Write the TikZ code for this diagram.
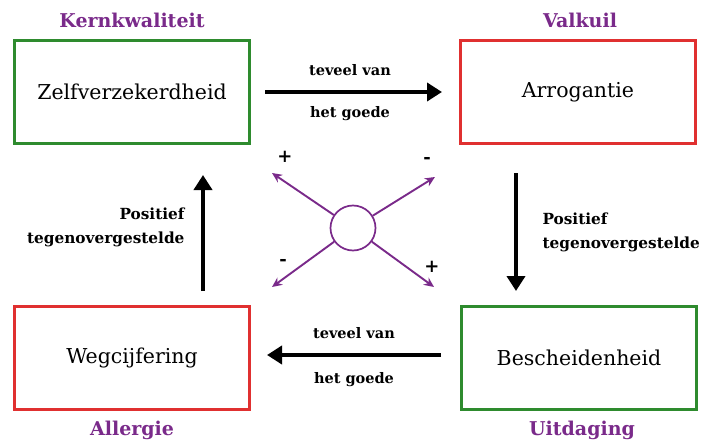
\documentclass[tikz,border=0pt]{standalone}
\usepackage{fontspec}
\setmainfont{DejaVu Serif}
\usetikzlibrary{arrows.meta}
\definecolor{kpurple}{HTML}{7A2A8A}
\definecolor{kgreen}{HTML}{2E8B2E}
\definecolor{kred}{HTML}{E03030}
\begin{document}
\begin{tikzpicture}[x=1pt,y=-1pt,
  box/.style={draw, line width=2.6pt, minimum width=235pt, minimum height=103pt, inner sep=0pt, font=\fontsize{20.5}{24}\selectfont},
  cat/.style={text=kpurple, font=\bfseries\fontsize{19}{20}\selectfont},
  lbl/.style={font=\bfseries\fontsize{14.5}{24}\selectfont, align=center},
  plbl/.style={font=\bfseries\fontsize{15.3}{24}\selectfont},
  bigarrow/.style={line width=4.2pt, -{Triangle[length=15pt,width=18pt]}},
  parrow/.style={kpurple, line width=1.9pt, -{Stealth[length=10pt,width=9pt]}},
  sign/.style={font=\bfseries\fontsize{18}{18}\selectfont}]
\useasboundingbox (0,0) rectangle (705,444);
\fill[white] (0,0) rectangle (705,444);
\node[box, draw=kgreen] (zv) at (132,92) {Zelfverzekerdheid};
\node[box, draw=kred] (ar) at (578,92) {Arrogantie};
\node[box, draw=kred] (wc) at (132,358) {Wegcijfering};
\node[box, draw=kgreen] (bs) at (579,358) {Bescheidenheid};
\node[cat] (k1) at (132,20) {Kernkwaliteit};
\node[cat] (k2) at (580,20) {Valkuil};
\node[cat] (k3) at (132,430) {Allergie};
\node[cat] (k4) at (582,430) {Uitdaging};
\coordinate (a1s) at (265,92);
\coordinate (a1e) at (442,92);
\draw[bigarrow] (a1s) -- (a1e);
\node[lbl] (t1a) at (350,70) {teveel van};
\node[lbl] (t1b) at (350,114) {het goede};
\coordinate (a2s) at (441,355);
\coordinate (a2e) at (267,355);
\draw[bigarrow] (a2s) -- (a2e);
\node[lbl] (t2a) at (354,333) {teveel van};
\node[lbl] (t2b) at (354,380) {het goede};
\coordinate (a3s) at (516,173);
\coordinate (a3e) at (516,291);
\draw[bigarrow] (a3s) -- (a3e);
\node[plbl, anchor=west, align=left] (t3) at (539,232) {Positief\\tegenovergestelde};
\coordinate (a4s) at (203,291);
\coordinate (a4e) at (203,175);
\draw[bigarrow] (a4s) -- (a4e);
\node[plbl, anchor=east, align=right] (t4) at (188,227) {Positief\\tegenovergestelde};
\node[draw=kpurple, line width=1.7pt, circle, minimum size=45pt, inner sep=0pt] (c) at (353,228) {};
\coordinate (p1) at (272,173);
\coordinate (p2) at (435,177);
\coordinate (p3) at (272,287);
\coordinate (p4) at (434,287);
\draw[parrow] (c) -- (p1);
\draw[parrow] (c) -- (p2);
\draw[parrow] (c) -- (p3);
\draw[parrow] (c) -- (p4);
\node[sign] (s1) at (285,157) {+};
\node[sign] (s2) at (427,160) {-};
\node[sign] (s3) at (283,262) {-};
\node[sign] (s4) at (432,267) {+};
\end{tikzpicture}
\end{document}
